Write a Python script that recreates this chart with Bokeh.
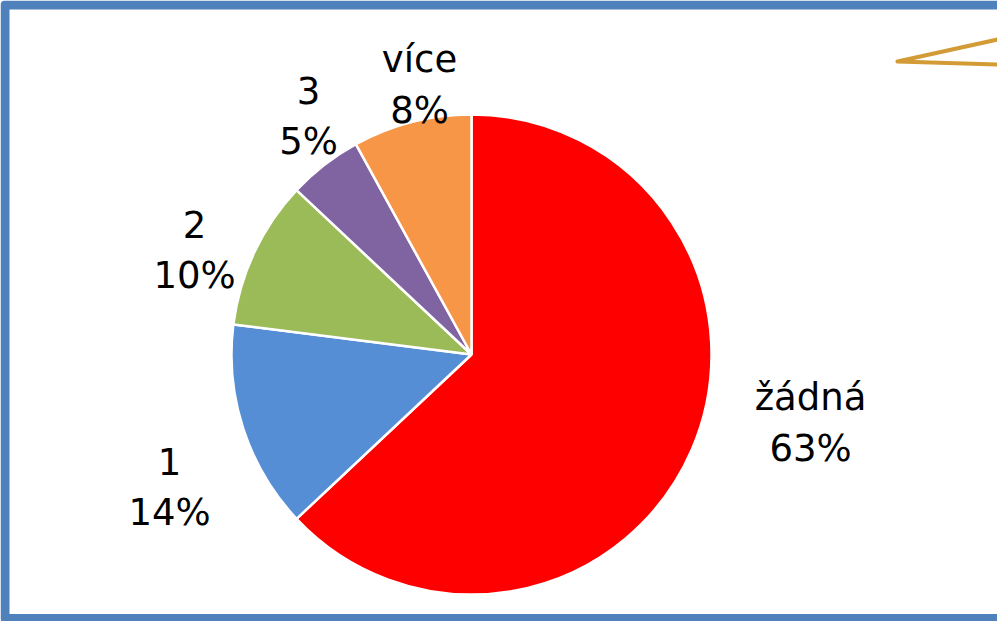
import math
from bokeh.plotting import figure
from bokeh.models import Range1d, ColumnDataSource
from bokeh.core.properties import value
from bokeh.embed import file_html
from bokeh.resources import INLINE

# ---- data ----
categories = ["žádná", "1", "2", "3", "více"]
percents = [63, 14, 10, 5, 8]
colors = ["#FF0000", "#558ED5", "#9BBB59", "#8064A2", "#F79646"]

# ---- layout (screen pixels, y measured from top of window) ----
W, H = 997, 621
CX, CY, R = 479, 362, 240
# label anchor (centre x, baseline of first line) in screen pixels
label_pos = [(818, 405), (177, 469), (202, 232), (316, 98), (427, 67)]
LINE_GAP = 51
FONT = "DejaVu Sans"
FSIZE = "37px"

def sy(y):
    return 629 - y

p = figure(width=W, height=H, output_backend="svg", toolbar_location=None,
           x_range=Range1d(8, 8 + W), y_range=Range1d(0, H),
           min_border=0, outline_line_color=None)
p.axis.visible = False
p.grid.visible = False
p.background_fill_color = "white"
p.border_fill_color = "white"

# frame
p.quad(left=12.5, right=1100, bottom=sy(626), top=sy(12.5), fill_color=None,
       line_color="#4F81BD", line_width=9, line_join="round")

# callout triangle (gold)
p.line(x=[1015, 905, 1015], y=[sy(44.8), sy(69), sy(72.3)], line_color="#D29B36",
       line_width=4, line_join="round", line_cap="round")

# pie
total = sum(percents)
starts, ends = [], []
cum = 0.0
for v in percents:
    a0 = math.pi / 2 - 2 * math.pi * (cum + v) / total
    a1 = math.pi / 2 - 2 * math.pi * cum / total
    starts.append(a0)
    ends.append(a1)
    cum += v
src = ColumnDataSource(dict(x=[CX] * len(percents), y=[sy(CY)] * len(percents),
                            start=starts, end=ends, color=colors))
p.wedge(x="x", y="y", radius=R, start_angle="start", end_angle="end",
        direction="anticlock", fill_color="color", line_color="white",
        line_width=2.5, source=src)

# labels
for cat, v, (lx, ly) in zip(categories, percents, label_pos):
    p.text(x=[lx, lx], y=[sy(ly), sy(ly + LINE_GAP)], text=[cat, f"{v}%"],
           text_font=value(FONT), text_font_size=FSIZE, text_align="center",
           text_baseline="alphabetic", text_color="black")

open("out.html", "w").write(file_html(p, INLINE))
